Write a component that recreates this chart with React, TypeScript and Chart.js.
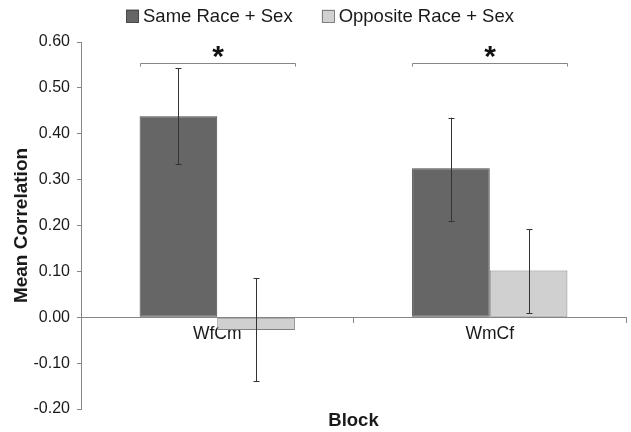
import React, { useEffect, useRef } from "react";
import { Chart, registerables } from "chart.js";

Chart.register(...registerables);

const categories = ["WfCm", "WmCf"];
const seriesLabels = ["Same Race + Sex", "Opposite Race + Sex"];
const sameValues = [0.438, 0.325];
const sameErrLow = [0.333, 0.21];
const sameErrHigh = [0.543, 0.435];
const oppValues = [-0.028, 0.102];
const oppErrLow = [-0.139, 0.009];
const oppErrHigh = [0.085, 0.192];
const yTicks = [-0.2, -0.1, 0, 0.1, 0.2, 0.3, 0.4, 0.5, 0.6];
const sigBracketValue = 0.555;
const sigMarks = ["*", "*"];

const FONT = "'Liberation Sans', Arial, sans-serif";
const DARK = "#666666";
const DARK_BORDER = "#4a4a4a";
const LIGHT = "#d0d0d0";
const LIGHT_BORDER = "#808080";
const AXIS = "#868686";
const TEXT = "#1a1a1a";

const overlayPlugin = {
  id: "overlay",
  afterDatasetsDraw(chart: any) {
    const ctx = chart.ctx;
    const y = chart.scales.y;
    const area = chart.chartArea;
    const errs = [
      [sameErrLow, sameErrHigh],
      [oppErrLow, oppErrHigh],
    ];
    ctx.save();
    // error bars
    ctx.strokeStyle = "#333333";
    ctx.lineWidth = 1;
    errs.forEach((pair, di) => {
      const meta = chart.getDatasetMeta(di);
      meta.data.forEach((el: any, i: number) => {
        const x = Math.round(el.x) + 0.5;
        const yl = y.getPixelForValue(pair[0][i]);
        const yh = y.getPixelForValue(pair[1][i]);
        ctx.beginPath();
        ctx.moveTo(x, yl);
        ctx.lineTo(x, yh);
        ctx.moveTo(x - 3, Math.round(yl) + 0.5);
        ctx.lineTo(x + 3, Math.round(yl) + 0.5);
        ctx.moveTo(x - 3, Math.round(yh) + 0.5);
        ctx.lineTo(x + 3, Math.round(yh) + 0.5);
        ctx.stroke();
      });
    });
    // significance brackets
    const m0 = chart.getDatasetMeta(0);
    const m1 = chart.getDatasetMeta(1);
    const by = Math.round(y.getPixelForValue(sigBracketValue)) + 0.5;
    categories.forEach((_, i) => {
      const a = m0.data[i];
      const b = m1.data[i];
      const x0 = Math.round(a.x - a.width / 2) + 0.5;
      const x1 = Math.round(b.x + b.width / 2) + 0.5;
      ctx.strokeStyle = AXIS;
      ctx.lineWidth = 1;
      ctx.beginPath();
      ctx.moveTo(x0, by + 3);
      ctx.lineTo(x0, by);
      ctx.lineTo(x1, by);
      ctx.lineTo(x1, by + 3);
      ctx.stroke();
      ctx.fillStyle = "#111111";
      ctx.font = `bold 30px ${FONT}`;
      ctx.textAlign = "center";
      ctx.textBaseline = "middle";
      ctx.fillText(sigMarks[i], (x0 + x1) / 2, by - 6);
    });
    // x axis title
    ctx.fillStyle = TEXT;
    ctx.font = `bold 18.5px ${FONT}`;
    ctx.textAlign = "center";
    ctx.textBaseline = "middle";
    ctx.fillText("Block", (area.left + area.right) / 2, 421);
    // legend
    ctx.font = `18.5px ${FONT}`;
    ctx.textAlign = "left";
    ctx.textBaseline = "middle";
    const fills = [DARK, LIGHT];
    const borders = [DARK_BORDER, LIGHT_BORDER];
    const box = 13;
    const gapText = 4;
    const gapItem = 29;
    const widths = seriesLabels.map((l) => box + gapText + ctx.measureText(l).width);
    const total = widths[0] + widths[1] + gapItem;
    let lx = 320 - total / 2;
    const ly = 16;
    seriesLabels.forEach((l, i) => {
      ctx.fillStyle = fills[i];
      ctx.fillRect(lx, ly - box / 2, box, box);
      ctx.strokeStyle = borders[i];
      ctx.strokeRect(Math.round(lx) + 0.5, Math.round(ly - box / 2) + 0.5, box - 1, box - 1);
      ctx.fillStyle = TEXT;
      ctx.fillText(l, lx + box + gapText, ly + 1);
      lx += widths[i] + gapItem;
    });
    ctx.restore();
  },
};

export default function App() {
  const ref = useRef<HTMLCanvasElement | null>(null);
  useEffect(() => {
    document.body.style.margin = "0";
    const chart = new Chart(ref.current as HTMLCanvasElement, {
      type: "bar",
      data: {
        labels: categories,
        datasets: [
          {
            label: seriesLabels[0],
            data: sameValues,
            backgroundColor: DARK,
            borderColor: DARK_BORDER,
            borderWidth: 1,
            borderSkipped: false,
          },
          {
            label: seriesLabels[1],
            data: oppValues,
            backgroundColor: LIGHT,
            borderColor: LIGHT_BORDER,
            borderWidth: 1,
            borderSkipped: false,
          },
        ],
      },
      options: {
        animation: false,
        responsive: false,
        devicePixelRatio: 1,
        layout: { padding: { top: 42, right: 5, bottom: 23, left: 0 } },
        datasets: { bar: { barPercentage: 1, categoryPercentage: 0.57 } },
        plugins: { legend: { display: false }, tooltip: { enabled: false } },
        scales: {
          x: {
            position: { y: 0 } as any,
            grid: {
              display: true,
              drawOnChartArea: false,
              drawTicks: true,
              tickLength: 5,
              offset: true,
              color: AXIS,
            },
            border: { display: true, color: AXIS, width: 1 },
            ticks: { color: TEXT, font: { family: FONT, size: 17.5 }, padding: 1 },
          },
          y: {
            min: -0.2,
            max: 0.6,
            afterFit: (s: any) => {
              s.width = 81;
            },
            afterBuildTicks: (s: any) => {
              s.ticks = yTicks.map((v) => ({ value: v }));
            },
            grid: { display: true, drawOnChartArea: false, drawTicks: true, tickLength: 4, color: AXIS },
            border: { display: true, color: AXIS, width: 1 },
            ticks: {
              color: TEXT,
              font: { family: FONT, size: 16 },
              padding: 7,
              callback: (v: any) => Number(v).toFixed(2),
            },
            title: {
              display: true,
              text: "Mean Correlation",
              color: TEXT,
              font: { family: FONT, size: 19, weight: "bold" },
              padding: { top: 10, bottom: 4 },
            },
          },
        },
      },
      plugins: [overlayPlugin],
    });
    return () => chart.destroy();
  }, []);
  return (
    <div style={{ position: "absolute", left: 0, top: 0, width: 631, height: 432 }}>
      <canvas ref={ref} width={631} height={432} style={{ display: "block" }} />
    </div>
  );
}
